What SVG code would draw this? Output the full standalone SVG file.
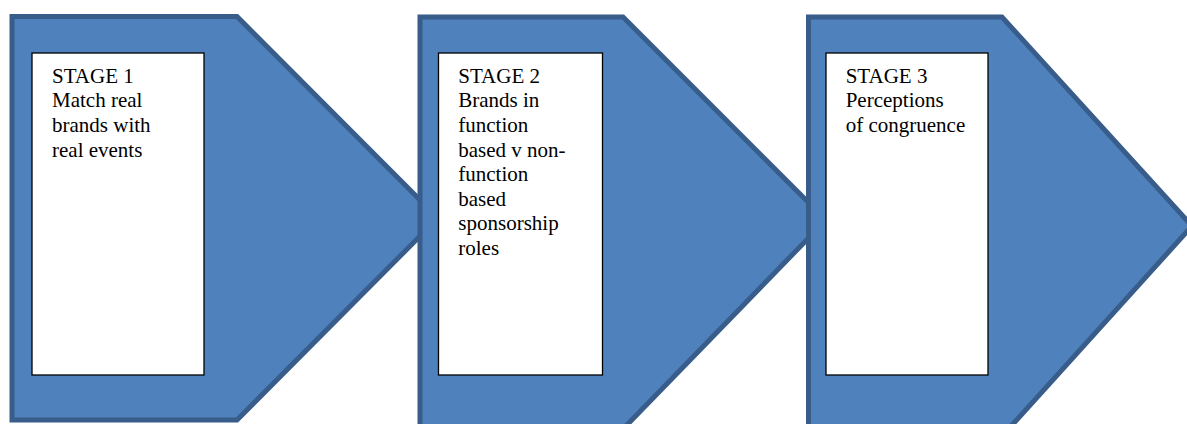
<svg xmlns="http://www.w3.org/2000/svg" width="1187" height="424" viewBox="0 0 1187 424">
<style>
.chev{fill:#4F81BD;stroke:#385D8A;stroke-width:5;stroke-linejoin:miter}
.box{fill:#FFFFFF;stroke:#000000;stroke-width:1.3}
.lbl{font-family:"Liberation Serif","Times New Roman",serif;font-size:21px;fill:#000000}
</style>
<rect width="1187" height="424" fill="#FFFFFF"/>
<g id="stage1">
<path class="chev" d="M12,16.5 L237,16.5 L438,218 L237,420 L12,420 Z"/>
<rect class="box" x="32" y="53" width="172" height="322"/>
<text class="lbl" x="52" y="82.7"><tspan x="52">STAGE 1</tspan><tspan x="52" dy="24.6">Match real</tspan><tspan x="52" dy="24.6">brands with</tspan><tspan x="52" dy="24.6">real events</tspan></text>
</g>
<g id="stage2">
<path class="chev" d="M420,17 L623,17 L826,220 L624,428 L420,428 Z"/>
<rect class="box" x="438.5" y="53" width="164" height="322"/>
<text class="lbl" x="458.3" y="82.7"><tspan x="458.3">STAGE 2</tspan><tspan x="458.3" dy="24.6">Brands in</tspan><tspan x="458.3" dy="24.6">function</tspan><tspan x="458.3" dy="24.6">based v non-</tspan><tspan x="458.3" dy="24.6">function</tspan><tspan x="458.3" dy="24.6">based</tspan><tspan x="458.3" dy="24.6">sponsorship</tspan><tspan x="458.3" dy="24.6">roles</tspan></text>
</g>
<g id="stage3">
<path class="chev" d="M808.5,17 L1002,17 L1192,226 L1004,434 L808.5,434 Z"/>
<rect class="box" x="826" y="53" width="162" height="322"/>
<text class="lbl" x="845.7" y="82.7"><tspan x="845.7">STAGE 3</tspan><tspan x="845.7" dy="24.6">Perceptions</tspan><tspan x="845.7" dy="24.6">of congruence</tspan></text>
</g>
<g id="connectors"/>
</svg>
